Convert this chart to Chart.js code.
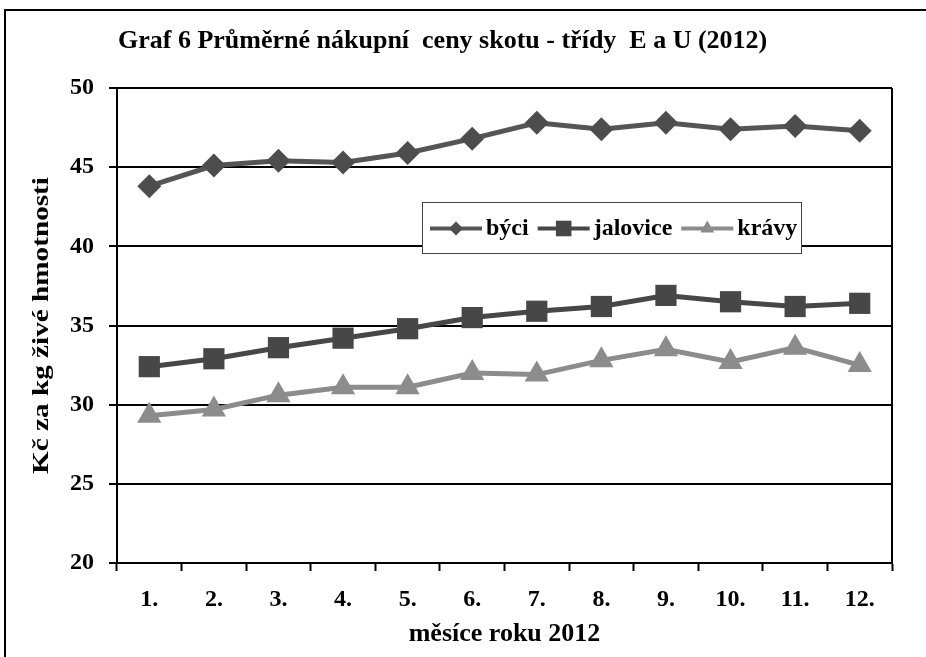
<!DOCTYPE html>
<html lang="cs">
<head>
<meta charset="utf-8">
<title>Graf 6 Průměrné nákupní ceny skotu</title>
<script src="https://cdn.jsdelivr.net/npm/chart.js@4/dist/chart.umd.min.js"></script>
<style>
  html, body { margin: 0; padding: 0; background: #fff; }
  #wrap { width: 926px; height: 657px; position: relative; }
</style>
</head>
<body>
<div id="wrap"><canvas id="c" width="926" height="657"></canvas></div>
<script>
// Měsíce roku 2012
const months = ['1.', '2.', '3.', '4.', '5.', '6.', '7.', '8.', '9.', '10.', '11.', '12.'];

// Průměrné nákupní ceny (Kč za kg živé hmotnosti)
const byci     = [43.8, 45.1, 45.4, 45.3, 45.9, 46.8, 47.8, 47.4, 47.8, 47.4, 47.6, 47.3];
const jalovice = [32.4, 32.9, 33.6, 34.2, 34.8, 35.5, 35.9, 36.2, 36.9, 36.5, 36.2, 36.4];
const kravy    = [29.3, 29.7, 30.6, 31.1, 31.1, 32.0, 31.9, 32.8, 33.5, 32.7, 33.6, 32.5];

// Osa y
const yMin = 20;
const yMax = 50;
const yStep = 5;

const titleText = 'Graf 6 Průměrné nákupní  ceny skotu - třídy  E a U (2012)';
const yTitle = 'Kč za kg živé hmotnosti';
const xTitle = 'měsíce roku 2012';

const SERIF = "'Liberation Serif', 'Times New Roman', serif";

// Rámeček kolem celého grafu, nadpis a popis osy y
const framePlugin = {
  id: 'frame',
  beforeDraw(chart) {
    const ctx = chart.ctx;
    ctx.save();
    ctx.fillStyle = '#fff';
    ctx.fillRect(0, 0, chart.width, chart.height);
    ctx.strokeStyle = '#000';
    ctx.lineWidth = 2;
    ctx.beginPath();
    ctx.moveTo(5, chart.height + 5);
    ctx.lineTo(5, 10);
    ctx.lineTo(chart.width + 5, 10);
    ctx.stroke();
    ctx.fillStyle = '#000';
    ctx.font = 'bold 26px ' + SERIF;
    ctx.textBaseline = 'middle';
    ctx.textAlign = 'left';
    ctx.fillText(titleText, 118, 41);

    // popis osy y (svislý, protažený podél osy)
    const a = chart.chartArea;
    ctx.translate(42, (a.top + a.bottom) / 2);
    ctx.rotate(-Math.PI / 2);
    ctx.scale(1.27, 1);
    ctx.font = 'bold 23px ' + SERIF;
    ctx.textAlign = 'center';
    ctx.fillText(yTitle, 0, 0);
    ctx.restore();
  },
  afterDatasetsDraw(chart) {
    // pravý okraj oblasti grafu
    const a = chart.chartArea;
    const ctx = chart.ctx;
    ctx.save();
    ctx.strokeStyle = '#000';
    ctx.lineWidth = 2;
    ctx.beginPath();
    ctx.moveTo(a.right, a.top);
    ctx.lineTo(a.right, a.bottom);
    ctx.stroke();
    ctx.restore();
  }
};

function drawMarker(ctx, style, x, y, r, color) {
  ctx.fillStyle = color;
  ctx.beginPath();
  if (style === 'rectRot') {
    ctx.moveTo(x, y - r); ctx.lineTo(x + r, y); ctx.lineTo(x, y + r); ctx.lineTo(x - r, y);
  } else if (style === 'rect') {
    const s = r * Math.SQRT1_2;
    ctx.rect(x - s, y - s, 2 * s, 2 * s);
  } else {
    ctx.moveTo(x, y - r);
    ctx.lineTo(x + r * Math.sin(Math.PI * 2 / 3), y - r * Math.cos(Math.PI * 2 / 3));
    ctx.lineTo(x + r * Math.sin(Math.PI * 4 / 3), y - r * Math.cos(Math.PI * 4 / 3));
  }
  ctx.closePath();
  ctx.fill();
}

// Legenda uvnitř oblasti grafu
const legendBox = { x: 422, y: 202, w: 379, h: 51 };
const legendPlugin = {
  id: 'innerLegend',
  afterDraw(chart) {
    const ctx = chart.ctx;
    const b = legendBox;
    ctx.save();
    ctx.fillStyle = '#fff';
    ctx.fillRect(b.x, b.y, b.w, b.h);
    ctx.strokeStyle = '#444';
    ctx.lineWidth = 1;
    ctx.strokeRect(b.x + 0.5, b.y + 0.5, b.w, b.h);
    ctx.font = 'bold 24px ' + SERIF;
    ctx.textBaseline = 'middle';
    ctx.textAlign = 'left';
    const cy = b.y + b.h / 2 + 1;
    let x = b.x + 8;
    chart.data.datasets.forEach(ds => {
      ctx.strokeStyle = ds.borderColor;
      ctx.lineWidth = 4;
      ctx.beginPath();
      ctx.moveTo(x, cy);
      ctx.lineTo(x + 52, cy);
      ctx.stroke();
      drawMarker(ctx, ds.pointStyle, x + 26, cy, ds.legendRadius, ds.pointBackgroundColor);
      x += 56;
      ctx.fillStyle = '#000';
      ctx.fillText(ds.label, x, cy);
      x += ctx.measureText(ds.label).width + 9;
    });
    ctx.restore();
  }
};

new Chart(document.getElementById('c'), {
  type: 'line',
  data: {
    labels: months,
    datasets: [
      {
        label: 'býci', data: byci,
        borderColor: '#555555', backgroundColor: '#4d4d4d',
        pointBackgroundColor: '#4d4d4d', pointBorderColor: '#4d4d4d',
        borderWidth: 5, pointStyle: 'rectRot', pointRadius: 12, pointBorderWidth: 0,
        legendRadius: 7
      },
      {
        label: 'jalovice', data: jalovice,
        borderColor: '#474747', backgroundColor: '#474747',
        pointBackgroundColor: '#474747', pointBorderColor: '#474747',
        borderWidth: 5, pointStyle: 'rect', pointRadius: 15, pointBorderWidth: 0,
        legendRadius: 11
      },
      {
        label: 'krávy', data: kravy,
        borderColor: '#8c8c8c', backgroundColor: '#8c8c8c',
        pointBackgroundColor: '#8c8c8c', pointBorderColor: '#8c8c8c',
        borderWidth: 5, pointStyle: 'triangle', pointRadius: 14, pointBorderWidth: 0,
        legendRadius: 8
      }
    ]
  },
  options: {
    responsive: false,
    animation: false,
    layout: { padding: { left: 0, top: 88, right: 34, bottom: 0 } },
    plugins: {
      legend: { display: false },
      title: { display: false },
      tooltip: { enabled: false }
    },
    elements: { line: { tension: 0 } },
    scales: {
      x: {
        offset: true,
        afterFit(scale) { scale.height = 94; },
        grid: {
          offset: true, drawOnChartArea: false, drawTicks: true,
          tickLength: 8, tickWidth: 2, tickColor: '#000'
        },
        border: { display: true, color: '#000', width: 2 },
        ticks: {
          color: '#000', padding: 14,
          font: { family: SERIF, size: 24, weight: 'bold' }
        },
        title: {
          display: true, text: xTitle, color: '#000',
          font: { family: SERIF, size: 26, weight: 'bold' },
          padding: { top: 0, bottom: 7 }
        }
      },
      y: {
        min: yMin, max: yMax,
        afterFit(scale) { scale.width = 117; },
        grid: {
          color: '#000', lineWidth: 2, drawTicks: true,
          tickLength: 8, tickWidth: 2, tickColor: '#000'
        },
        border: { display: true, color: '#000', width: 2 },
        ticks: {
          stepSize: yStep, color: '#000', padding: 15,
          font: { family: SERIF, size: 24, weight: 'bold' }
        },
        title: { display: false }
      }
    }
  },
  plugins: [framePlugin, legendPlugin]
});
</script>
</body>
</html>
